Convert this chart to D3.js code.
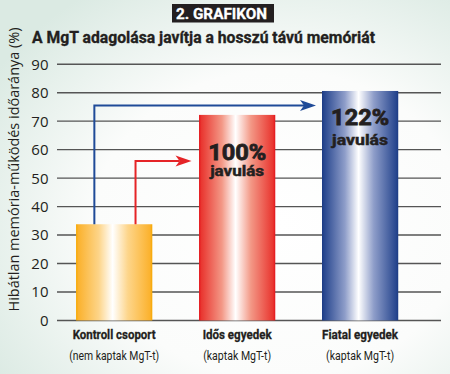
<!DOCTYPE html>
<html><head><meta charset="utf-8">
<script src="https://cdn.jsdelivr.net/npm/d3@7"></script>
<style>
html,body{margin:0;padding:0;background:#fff;}
svg{display:block;}
text{font-family:"Roboto","Open Sans",sans-serif;fill:#231f20;}
text.b{stroke:#231f20;stroke-width:0.45px;}
</style></head>
<body>
<script>
// ---- data ----
const categories = ["Kontroll csoport", "Idős egyedek", "Fiatal egyedek"];
const subLabels = ["(nem kaptak MgT-t)", "(kaptak MgT-t)", "(kaptak MgT-t)"];
const values = [33.8, 72.2, 80.6];
const improvements = ["", "100%", "122%"];
const improvementWord = "javulás";
const yTicks = [0, 10, 20, 30, 40, 50, 60, 70, 80, 90];
const badge = "2. GRAFIKON";
const title = "A MgT adagolása javítja a hosszú távú memóriát";
const yTitle = "Hibátlan memória-működés időaránya (%)";

const W = 450, H = 374;
const svg = d3.select("body").append("svg").attr("width", W).attr("height", H);
const defs = svg.append("defs");

// background
const bg = defs.append("radialGradient").attr("id", "bg").attr("cx", "62%").attr("cy", "60%").attr("r", "75%");
bg.append("stop").attr("offset", "0").attr("stop-color", "#ffffff");
bg.append("stop").attr("offset", "0.55").attr("stop-color", "#fbfcfb");
bg.append("stop").attr("offset", "1").attr("stop-color", "#dbeae3");
svg.append("rect").attr("width", W).attr("height", H).attr("fill", "url(#bg)");

// bar gradients
const palettes = [
  {edge: "#f6a800", base: "#fbb22e", mid: "#fdd58a"},
  {edge: "#e3141b", base: "#e93630", mid: "#f39886"},
  {edge: "#1c3b84", base: "#28478f", mid: "#8e9dc9"}
];
palettes.forEach((p, i) => {
  const g = defs.append("linearGradient").attr("id", "bar" + i).attr("x1", "0").attr("x2", "1").attr("y1", "0").attr("y2", "0");
  [[0, p.edge], [0.03, p.base], [0.3, p.mid], [0.48, "#ffffff"], [0.68, p.mid], [0.97, p.base], [1, p.edge]]
    .forEach(s => g.append("stop").attr("offset", s[0]).attr("stop-color", s[1]));
});

// scales
const y = d3.scaleLinear().domain([0, 90]).range([320.5, 64.2]);
const x = d3.scaleBand().domain(categories).range([57, 417.3]).paddingInner(0.38).paddingOuter(0.155);

// gridlines
svg.append("g").selectAll("line").data(yTicks).join("line")
  .attr("x1", 57).attr("x2", 441)
  .attr("y1", d => y(d)).attr("y2", d => y(d))
  .attr("stroke", "#555").attr("stroke-width", 1.4);

// tick labels
svg.append("g").selectAll("text").data(yTicks).join("text")
  .attr("x", 48.5).attr("y", d => y(d)).attr("dy", "0.36em")
  .attr("text-anchor", "end").style("font-family", "'Open Sans',sans-serif")
  .attr("font-size", 15).text(d => d);

// bars
svg.append("g").selectAll("rect").data(values).join("rect")
  .attr("x", (d, i) => x(categories[i])).attr("width", x.bandwidth())
  .attr("y", d => y(d)).attr("height", d => y(0) - y(d))
  .attr("fill", (d, i) => `url(#bar${i})`);

// arrows
function arrow(color, xv, yTop, xEnd) {
  const g = svg.append("g");
  g.append("path").attr("d", `M${xv},${y(values[0])}V${yTop}H${xEnd - 12}`)
    .attr("fill", "none").attr("stroke", color).attr("stroke-width", 2);
  g.append("path").attr("d", `M${xEnd},${yTop}L${xEnd - 16},${yTop - 5.5}L${xEnd - 12},${yTop}L${xEnd - 16},${yTop + 5.5}Z`)
    .attr("fill", color);
}
const x0 = x(categories[0]), bw = x.bandwidth();
arrow("#1f4b98", x0 + bw * 0.24, 105.5, x(categories[2]) - 6);
arrow("#e52427", x0 + bw * 0.78, 161, x(categories[1]) - 7.5);

// improvement labels
const impY = [null, [159.5, 176], [124.5, 145]];
[1, 2].forEach(i => {
  const cx = x(categories[i]) + bw / 2;
  svg.append("text").attr("class", "b").attr("x", cx).attr("y", impY[i][0]).attr("text-anchor", "middle")
    .attr("font-size", 22).attr("font-weight", "bold").style("stroke-width", "0.8px")
    .attr("textLength", 58).attr("lengthAdjust", "spacingAndGlyphs").text(improvements[i]);
  svg.append("text").attr("class", "b").attr("x", cx).attr("y", impY[i][1]).attr("text-anchor", "middle")
    .attr("font-size", 14).attr("font-weight", "bold")
    .attr("textLength", i === 1 ? 54 : 56).attr("lengthAdjust", "spacingAndGlyphs").text(improvementWord);
});

// category labels
const catW = [83, 69, 76], subW = [90, 68, 68];
categories.forEach((c, i) => {
  const cx = x(c) + bw / 2;
  svg.append("text").attr("class", "b").attr("x", cx).attr("y", 338.5).attr("text-anchor", "middle")
    .attr("font-size", 13.5).attr("font-weight", "bold").style("stroke-width", "0.3px")
    .attr("textLength", catW[i]).attr("lengthAdjust", "spacingAndGlyphs").text(c);
  svg.append("text").attr("x", cx).attr("y", 359.5).attr("text-anchor", "middle")
    .attr("font-size", 13).attr("textLength", subW[i]).attr("lengthAdjust", "spacingAndGlyphs").text(subLabels[i]);
});

// badge
svg.append("rect").attr("x", 172).attr("y", 4).attr("width", 102).attr("height", 18.5).attr("fill", "#231f20");
svg.append("text").attr("x", 221.5).attr("y", 18.5).attr("text-anchor", "middle")
  .attr("font-size", 15.5).attr("font-weight", "bold").style("fill", "#fff").style("stroke", "#fff").style("stroke-width", "0.3px")
  .attr("textLength", 91).attr("lengthAdjust", "spacingAndGlyphs").text(badge);

// title
svg.append("text").attr("class", "b").attr("x", 32).attr("y", 43.3)
  .attr("font-size", 16.5).attr("font-weight", "bold").style("stroke-width", "0.35px")
  .attr("textLength", 343).attr("lengthAdjust", "spacingAndGlyphs").text(title);

// y title
svg.append("text").attr("transform", "translate(18.5,169.5) rotate(-90)")
  .attr("text-anchor", "middle").attr("font-size", 14).style("font-family", "'Open Sans',sans-serif")
  .attr("textLength", 284).attr("lengthAdjust", "spacingAndGlyphs").text(yTitle);
</script>
</body></html>
